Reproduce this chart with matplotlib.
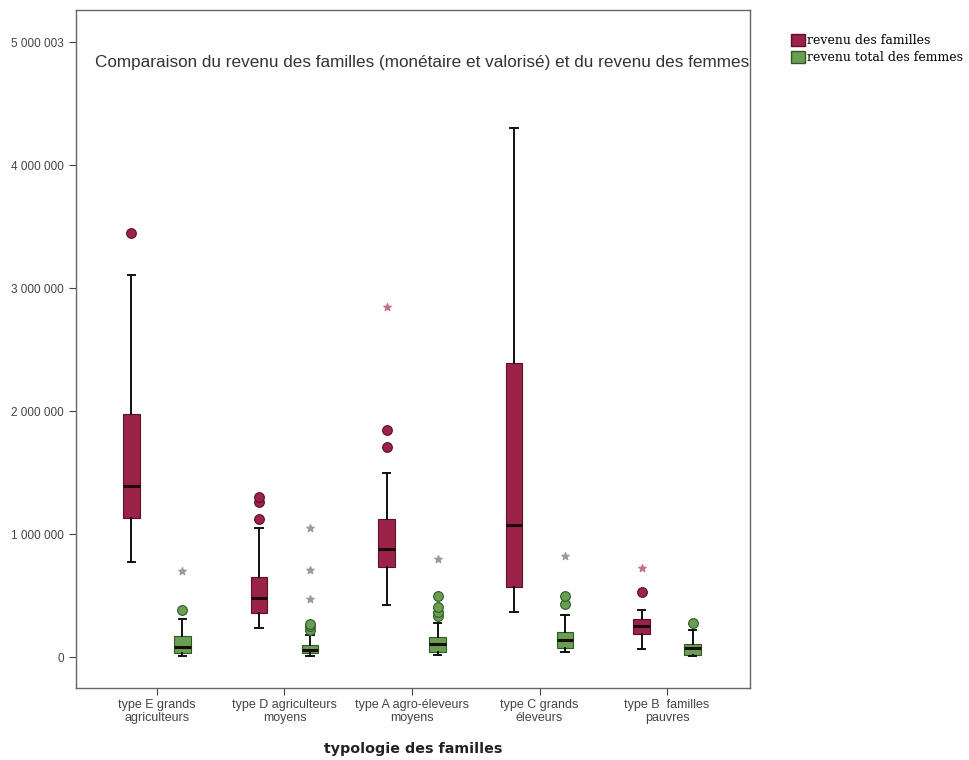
import matplotlib.pyplot as plt
from matplotlib.patches import Patch

plt.rcParams['font.family'] = ['Liberation Sans', 'DejaVu Sans']

groups = ['type E grands\nagriculteurs', 'type D agriculteurs\nmoyens',
          'type A agro-éleveurs\nmoyens', 'type C grands\néleveurs',
          'type B  familles\npauvres']

# revenu des familles : whisker low, Q1, median, Q3, whisker high
fam_lo = [770000, 240000, 420000, 370000, 65000]
fam_q1 = [1130000, 360000, 730000, 570000, 190000]
fam_med = [1390000, 480000, 880000, 1070000, 250000]
fam_q3 = [1980000, 650000, 1120000, 2390000, 310000]
fam_hi = [3110000, 1050000, 1500000, 4300000, 380000]
fam_out = [[3450000], [1120000, 1260000, 1300000], [1710000, 1850000], [], [530000]]
fam_ext = [[], [], [2850000], [], [720000]]

# revenu total des femmes
fem_lo = [10000, 10000, 15000, 40000, 10000]
fem_q1 = [30000, 30000, 40000, 70000, 20000]
fem_med = [80000, 60000, 110000, 140000, 70000]
fem_q3 = [170000, 100000, 160000, 200000, 110000]
fem_hi = [310000, 180000, 280000, 340000, 220000]
fem_out = [[380000], [220000, 250000, 270000], [330000, 370000, 410000, 500000],
           [430000, 500000], [280000]]
fem_ext = [[700000], [470000, 710000, 1050000], [800000], [820000], []]

yticks = [0, 1000000, 2000000, 3000000, 4000000, 5000000]
ytick_labels = ['0', '1 000 000', '2 000 000', '3 000 000', '4 000 000', '5 000 003']

red = '#9C2348'
green = '#6A9E52'


def make_stats(lo, q1, med, q3, hi, out):
    return [dict(whislo=lo[i], q1=q1[i], med=med[i], q3=q3[i], whishi=hi[i], fliers=out[i])
            for i in range(len(lo))]


fig = plt.figure(figsize=(9.69, 7.6), dpi=100)
ax = fig.add_axes([0.0784, 0.0947, 0.6956, 0.892])

pos = list(range(len(groups)))
off = 0.2
series = [
    (make_stats(fam_lo, fam_q1, fam_med, fam_q3, fam_hi, fam_out), fam_ext, red, '#5E1028', -off, '#C8708A'),
    (make_stats(fem_lo, fem_q1, fem_med, fem_q3, fem_hi, fem_out), fem_ext, green, '#2F5A25', off, '#9A9A9A'),
]
for stats, ext, col, edge, dx, star_col in series:
    ax.bxp(stats, positions=[p + dx for p in pos], widths=0.13, patch_artist=True,
           boxprops=dict(facecolor=col, edgecolor=edge, linewidth=0.8),
           medianprops=dict(color='#1A0A0A', linewidth=2.2),
           whiskerprops=dict(color='#111111', linewidth=1.4),
           capprops=dict(color='#111111', linewidth=1.4),
           capwidths=0.06,
           flierprops=dict(marker='o', markerfacecolor=col, markeredgecolor=edge,
                           markersize=7, markeredgewidth=0.8))
    for p, vals in zip(pos, ext):
        ax.scatter([p + dx] * len(vals), vals, marker='*', s=30, color=star_col, zorder=3)

ax.set_xlim(-0.635, 4.65)
ax.set_ylim(-252000, 5260000)
ax.set_yticks(yticks)
ax.set_yticklabels(ytick_labels, fontsize=8.5, color='#333333')
ax.set_xticks(pos)
ax.set_xticklabels(groups, fontsize=9, color='#333333', linespacing=1.05)
ax.tick_params(axis='both', direction='out', length=5, width=0.8, colors='#444444')
ax.tick_params(axis='x', pad=3)
for s in ax.spines.values():
    s.set_color('#666666')
    s.set_linewidth(1.0)

ax.text(0.513, 0.922, 'Comparaison du revenu des familles (monétaire et valorisé) et du revenu des femmes',
        transform=ax.transAxes, ha='center', va='center', fontsize=12.3, color='#333333')
ax.set_xlabel('typologie des familles', fontsize=10.3, fontweight='bold',
              family='DejaVu Sans', color='#222222', labelpad=13)

handles = [Patch(facecolor=red, edgecolor='#5E1028', label='revenu des familles'),
           Patch(facecolor=green, edgecolor='#2F5A25', label='revenu total des femmes')]
fig.legend(handles=handles, loc='upper left', bbox_to_anchor=(0.811, 0.962), frameon=False,
           prop=dict(family='DejaVu Serif', size=9), handlelength=1.1, handleheight=1.1,
           handletextpad=0.2, labelspacing=0.3, borderaxespad=0)

plt.savefig('out.png', dpi=100)
